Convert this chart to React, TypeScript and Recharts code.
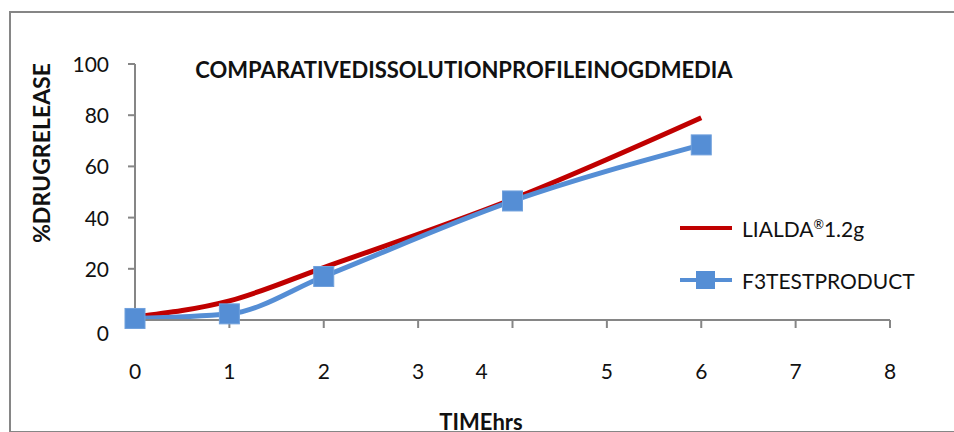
import React from "react";
import { Legend, Line, LineChart, XAxis, YAxis } from "recharts";

const hours = [0, 1, 2, 4, 6];
const lialda = [1.2, 7.5, 20.5, 47.2, 79];
const f3Product = [0.6, 2.4, 17, 46.5, 68.4];
const xTicks = [0, 1, 2, 3, 4, 5, 6, 7, 8];
const yTicks = [0, 20, 40, 60, 80, 100];
const seriesNames = ["LIALDA®1.2g", "F3TESTPRODUCT"];
const title = "COMPARATIVEDISSOLUTIONPROFILEINOGDMEDIA";

const data = hours.map((h, i) => ({ time: h, lialda: lialda[i], f3: f3Product[i] }));

const FONT = "Lato, 'Open Sans', sans-serif";
const RED = "#C00000";
const BLUE = "#558ED5";
const AXIS = "#868686";

function XTick({ x, y, payload }: any) {
  // the "4" label sits left of its tick in the original
  const shift = payload.value === 4 ? -31 : 0;
  return (
    <text x={x + shift} y={y + 51} textAnchor="middle" fontSize={21} fill="#111" fontFamily={FONT}>
      {payload.value}
    </text>
  );
}

function YTick({ x, y, payload }: any) {
  const shift = payload.value === 0 ? 13 : 0;
  return (
    <text x={x} y={y + 8 + shift} textAnchor="end" fontSize={21} fill="#111" fontFamily={FONT}>
      {payload.value}
    </text>
  );
}

function SquareDot({ cx, cy }: any) {
  if (cx == null || cy == null) return null;
  return <rect x={cx - 10} y={cy - 10} width={20} height={20} fill={BLUE} stroke="#6FA0DC" strokeWidth={1} />;
}

function LegendBox({ payload }: any) {
  const items = [...(payload || [])].sort(
    (a: any, b: any) => seriesNames.indexOf(a.value) - seriesNames.indexOf(b.value)
  );
  return (
    <div style={{ fontFamily: FONT, fontSize: 21, color: "#111" }}>
      {items.map((p: any, i: number) => (
        <div key={i} style={{ display: "flex", alignItems: "center", height: 52 }}>
          <svg width={62} height={24} style={{ display: "block" }}>
            <line x1={0} y1={12} x2={52} y2={12} stroke={p.color} strokeWidth={4} />
            {p.value === seriesNames[1] && <rect x={16} y={3} width={19} height={18} fill={BLUE} />}
          </svg>
          <span>
            {p.value === seriesNames[0] ? (
              <>
                LIALDA<sup style={{ fontSize: "0.6em" }}>®</sup>1.2g
              </>
            ) : (
              p.value
            )}
          </span>
        </div>
      ))}
    </div>
  );
}

export default function App() {
  return (
    <div style={{ position: "absolute", left: 0, top: 0, width: 954, height: 432, background: "#fff", overflow: "hidden" }}>
      <LineChart width={954} height={432} data={data} margin={{ top: 64, right: 64, bottom: 82, left: 75 }}>
        <XAxis
          dataKey="time"
          type="number"
          domain={[0, 8]}
          ticks={xTicks}
          stroke={AXIS}
          strokeWidth={2}
          tickSize={8}
          tickMargin={0}
          tick={<XTick />}
          height={30}
          label={{
            content: () => (
              <text x={481} y={430} textAnchor="middle" fontSize={22} fontWeight={700} fill="#111" fontFamily={FONT}>
                TIMEhrs
              </text>
            ),
          }}
        />
        <YAxis
          domain={[0, 100]}
          ticks={yTicks}
          stroke={AXIS}
          strokeWidth={2}
          tickSize={7}
          tickMargin={19}
          tick={<YTick />}
          width={60}
          label={{
            content: () => (
              <text
                x={50}
                y={153}
                transform="rotate(-90, 50, 153)"
                textAnchor="middle"
                fontSize={22}
                fontWeight={700}
                fill="#111"
                fontFamily={FONT}
                textLength={180}
                lengthAdjust="spacingAndGlyphs"
              >
                %DRUGRELEASE
              </text>
            ),
          }}
        />
        <Legend
          layout="vertical"
          align="center"
          verticalAlign="middle"
          content={<LegendBox />}
          wrapperStyle={{ left: 680, top: 202, width: 260 }}
        />
        <Line
          name={seriesNames[0]}
          dataKey="lialda"
          type="monotone"
          stroke={RED}
          strokeWidth={5}
          dot={false}
          activeDot={false}
          isAnimationActive={false}
        />
        <Line
          name={seriesNames[1]}
          dataKey="f3"
          type="monotone"
          stroke={BLUE}
          strokeWidth={5}
          dot={<SquareDot />}
          activeDot={false}
          isAnimationActive={false}
        />
      </LineChart>
      <div
        style={{
          position: "absolute",
          left: 190,
          top: 56,
          width: 548,
          textAlign: "center",
          fontFamily: FONT,
          fontWeight: 700,
          fontSize: 22,
          color: "#111",
          whiteSpace: "nowrap",
        }}
      >
        {title}
      </div>
      <div
        style={{
          position: "absolute",
          left: 9,
          top: 11,
          width: 960,
          height: 418,
          borderLeft: `2px solid ${AXIS}`,
          borderTop: `2px solid ${AXIS}`,
          borderBottom: `2px solid ${AXIS}`,
          pointerEvents: "none",
        }}
      />
    </div>
  );
}
